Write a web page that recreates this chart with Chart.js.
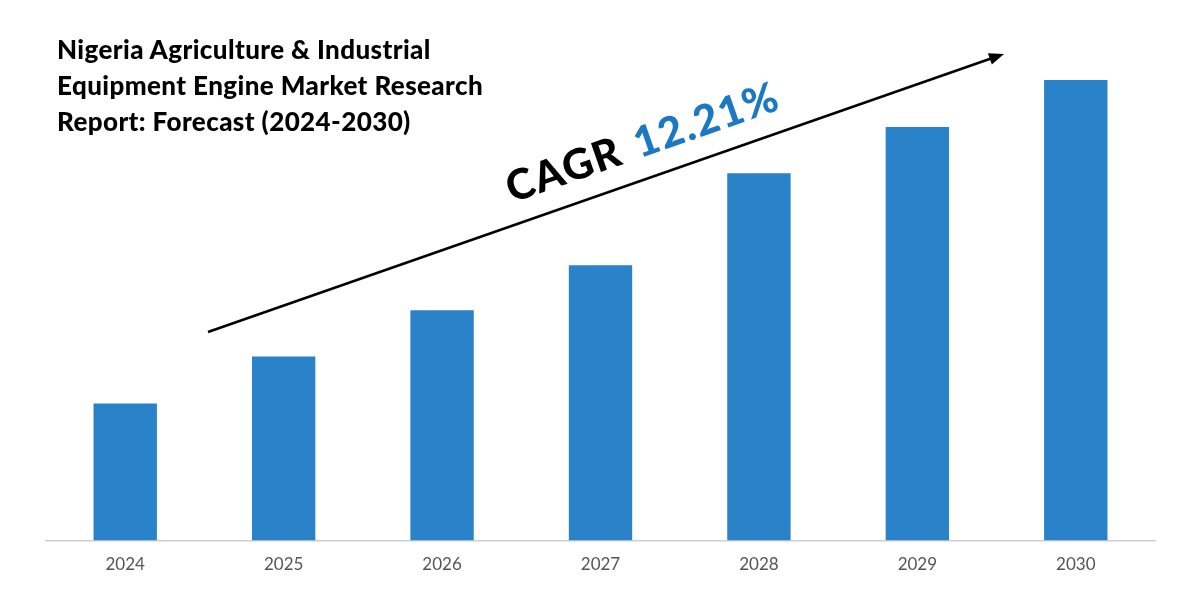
<!DOCTYPE html>
<html lang="en">
<head>
<meta charset="UTF-8">
<title>Nigeria Agriculture & Industrial Equipment Engine Market</title>
<style>
    body { margin: 0; background: #fff; }
    .wrap { position: relative; width: 1200px; height: 600px; }
    .title {
        position: absolute; left: 57px; top: 31px;
        font-family: 'Lato', sans-serif; font-weight: 900;
        font-size: 26px; line-height: 36px; letter-spacing: 0.4px; color: #000;
    }
</style>
</head>
<body>
<div class="wrap">
    <canvas id="chart" width="1200" height="600"></canvas>
    <div class="title">Nigeria Agriculture &amp; Industrial<br>Equipment Engine Market Research<br>Report: Forecast (2024-2030)</div>
</div>
<script src="https://cdn.jsdelivr.net/npm/chart.js"></script>
<script>
    var years = ['2024', '2025', '2026', '2027', '2028', '2029', '2030'];
    var marketValues = [137, 184, 230, 275, 367, 413, 460];
    var cagrLabel = 'CAGR';
    var cagrValue = '12.21%';

    // arrow + CAGR text drawn over the chart
    var cagrPlugin = {
        id: 'cagr',
        afterDraw: function(chart) {
            var ctx = chart.ctx;
            var x1 = 208, y1 = 332, x2 = 1004, y2 = 54;
            var ang = Math.atan2(y2 - y1, x2 - x1);
            ctx.save();
            ctx.strokeStyle = '#000';
            ctx.lineWidth = 2.5;
            ctx.beginPath();
            ctx.moveTo(x1, y1);
            ctx.lineTo(x2 - 10 * Math.cos(ang), y2 - 10 * Math.sin(ang));
            ctx.stroke();
            ctx.fillStyle = '#000';
            ctx.translate(x2, y2);
            ctx.rotate(ang);
            ctx.beginPath();
            ctx.moveTo(0, 0);
            ctx.lineTo(-15, -6);
            ctx.lineTo(-15, 6);
            ctx.closePath();
            ctx.fill();
            ctx.restore();

            ctx.save();
            ctx.translate(512, 203);
            ctx.rotate(ang);
            ctx.font = '900 42px Lato, sans-serif';
            ctx.letterSpacing = '1.5px';
            ctx.textBaseline = 'alphabetic';
            ctx.fillStyle = '#000';
            ctx.fillText(cagrLabel, 0, 0);
            var w = ctx.measureText(cagrLabel + ' ').width;
            ctx.fillStyle = '#1b78c2';
            ctx.fillText(cagrValue, w + 4, 0);
            ctx.restore();
        }
    };

    new Chart(document.getElementById('chart'), {
        type: 'bar',
        data: {
            labels: years,
            datasets: [{
                data: marketValues,
                backgroundColor: '#2a82c8',
                barPercentage: 0.4,
                categoryPercentage: 1.0
            }]
        },
        options: {
            responsive: false,
            animation: false,
            layout: { padding: { left: 46, right: 45, top: 40, bottom: 11 } },
            plugins: { legend: { display: false }, tooltip: { enabled: false } },
            scales: {
                x: {
                    grid: { display: false, drawTicks: false },
                    border: { color: '#d0d0d0', width: 1.5 },
                    ticks: { color: '#555', font: { family: 'Lato', size: 17 }, padding: 14 }
                },
                y: {
                    display: false,
                    min: 0,
                    max: 500
                }
            }
        },
        plugins: [cagrPlugin]
    });
</script>
</body>
</html>
